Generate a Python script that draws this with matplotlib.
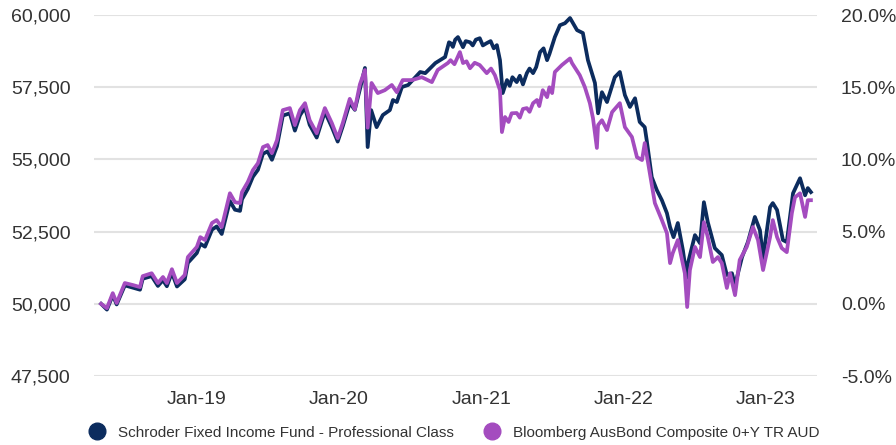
import matplotlib
matplotlib.use("Agg")
import matplotlib.pyplot as plt
import matplotlib.dates as mdates
from matplotlib.lines import Line2D
from matplotlib.ticker import FuncFormatter
import pandas as pd

plt.rcParams['font.family'] = ['Liberation Sans', 'DejaVu Sans']

fund_name = "Schroder Fixed Income Fund - Professional Class"
bench_name = "Bloomberg AusBond Composite 0+Y TR AUD"
navy = "#0c2c5e"
purple = "#a44cbf"

# growth of $50,000
fund_dates = [
    "2018-04-30", "2018-05-15", "2018-05-30", "2018-06-09", "2018-06-30", "2018-07-21",
    "2018-08-08", "2018-08-15", "2018-09-07", "2018-09-23", "2018-10-06", "2018-10-16",
    "2018-10-29", "2018-11-11", "2018-12-01", "2018-12-09", "2019-01-01", "2019-01-10",
    "2019-01-22", "2019-02-09", "2019-02-21", "2019-03-06", "2019-03-27", "2019-04-09",
    "2019-04-22", "2019-04-27", "2019-05-12", "2019-05-25", "2019-06-07", "2019-06-20",
    "2019-07-02", "2019-07-13", "2019-07-26", "2019-08-10", "2019-08-28", "2019-09-10",
    "2019-09-23", "2019-10-06", "2019-10-18", "2019-11-05", "2019-11-26", "2019-12-14",
    "2019-12-29", "2020-01-11", "2020-01-29", "2020-02-11", "2020-02-24", "2020-03-08",
    "2020-03-15", "2020-03-24", "2020-04-07", "2020-04-23", "2020-05-11", "2020-05-19",
    "2020-05-29", "2020-06-11", "2020-06-27", "2020-07-28", "2020-08-10", "2020-09-05",
    "2020-09-30", "2020-10-10", "2020-10-14", "2020-10-20", "2020-10-26", "2020-11-02",
    "2020-11-15", "2020-11-22", "2020-12-03", "2020-12-10", "2020-12-18", "2020-12-28",
    "2021-01-05", "2021-01-15", "2021-01-25", "2021-02-02", "2021-02-10", "2021-02-18",
    "2021-02-25", "2021-03-08", "2021-03-15", "2021-03-22", "2021-04-02", "2021-04-10",
    "2021-04-18", "2021-04-28", "2021-05-05", "2021-05-14", "2021-05-22", "2021-06-01",
    "2021-06-10", "2021-06-19", "2021-06-25", "2021-07-09", "2021-07-22", "2021-08-04",
    "2021-08-17", "2021-09-04", "2021-09-19", "2021-10-02", "2021-10-20", "2021-10-28",
    "2021-11-07", "2021-11-20", "2021-12-10", "2021-12-23", "2022-01-05", "2022-01-18",
    "2022-01-31", "2022-02-12", "2022-02-25", "2022-03-02", "2022-03-15", "2022-03-28",
    "2022-04-10", "2022-04-23", "2022-05-01", "2022-05-10", "2022-05-21", "2022-06-03",
    "2022-06-13", "2022-06-16", "2022-07-04", "2022-07-17", "2022-07-27", "2022-08-06",
    "2022-08-24", "2022-09-11", "2022-09-24", "2022-10-07", "2022-10-15", "2022-11-02",
    "2022-11-17", "2022-12-05", "2022-12-18", "2022-12-26", "2023-01-13", "2023-01-20",
    "2023-01-31", "2023-02-15", "2023-02-25", "2023-03-13", "2023-03-31", "2023-04-13",
    "2023-04-20", "2023-04-28",
]
fund_values = [
    50000, 49800, 50300, 49980, 50640, 50560,
    50490, 50870, 50960, 50620, 50820, 50610,
    51080, 50600, 50850, 51420, 51760, 52080,
    51980, 52570, 52680, 52420, 53560, 53260,
    53220, 53620, 53980, 54400, 54640, 55200,
    55280, 54990, 55460, 56520, 56600, 56000,
    56530, 56800, 56200, 55760, 56650, 56120,
    55620, 56150, 56960, 56720, 57430, 58170,
    55430, 56710, 56120, 56540, 56710, 57060,
    56990, 57510, 57580, 58030, 57990, 58340,
    58550, 59060, 59030, 58900, 59150, 59240,
    58890, 59100, 59060, 58950, 59150, 59200,
    58950, 59030, 59100, 58850, 58960, 58440,
    57300, 57750, 57550, 57850, 57680, 57900,
    57600, 57990, 58150, 57990, 58200, 58720,
    58850, 58440, 58650, 59240, 59650, 59720,
    59900, 59480, 59380, 58440, 57650, 56600,
    57330, 56990, 57850, 58030, 57230, 56820,
    57120, 56300, 56120, 55670, 54390, 53940,
    53590, 53140, 52660, 52310, 52800, 51860,
    50900, 51410, 52380, 52100, 53520, 52830,
    51930, 51690, 51000, 51060, 50650, 51620,
    52140, 53010, 52550, 51580, 53350, 53490,
    53250, 52210, 52140, 53830, 54350, 53760,
    54010, 53870,
]

bench_dates = [
    "2018-04-30", "2018-05-15", "2018-05-30", "2018-06-09", "2018-06-30", "2018-07-21",
    "2018-08-08", "2018-08-15", "2018-09-07", "2018-09-23", "2018-10-06", "2018-10-16",
    "2018-10-29", "2018-11-11", "2018-12-01", "2018-12-09", "2019-01-01", "2019-01-10",
    "2019-01-22", "2019-02-09", "2019-02-21", "2019-03-06", "2019-03-27", "2019-04-09",
    "2019-04-22", "2019-04-27", "2019-05-12", "2019-05-25", "2019-06-07", "2019-06-20",
    "2019-07-02", "2019-07-13", "2019-07-26", "2019-08-10", "2019-08-28", "2019-09-10",
    "2019-09-23", "2019-10-06", "2019-10-18", "2019-11-05", "2019-11-26", "2019-12-14",
    "2019-12-29", "2020-01-11", "2020-01-29", "2020-02-11", "2020-02-24", "2020-03-08",
    "2020-03-15", "2020-03-25", "2020-04-10", "2020-04-28", "2020-05-16", "2020-05-29",
    "2020-06-13", "2020-07-07", "2020-08-01", "2020-08-27", "2020-09-11", "2020-10-07",
    "2020-10-14", "2020-10-24", "2020-11-07", "2020-11-15", "2020-11-24", "2020-12-03",
    "2020-12-15", "2020-12-28", "2021-01-15", "2021-01-26", "2021-02-05", "2021-02-18",
    "2021-02-23", "2021-03-03", "2021-03-12", "2021-03-20", "2021-04-02", "2021-04-10",
    "2021-04-18", "2021-04-28", "2021-05-05", "2021-05-14", "2021-05-24", "2021-05-30",
    "2021-06-08", "2021-06-19", "2021-06-25", "2021-07-02", "2021-07-09", "2021-07-27",
    "2021-08-17", "2021-08-22", "2021-09-11", "2021-09-24", "2021-10-07", "2021-10-15",
    "2021-10-25", "2021-10-28", "2021-11-07", "2021-11-20", "2021-12-03", "2021-12-23",
    "2022-01-05", "2022-01-23", "2022-02-05", "2022-02-18", "2022-02-25", "2022-03-10",
    "2022-03-23", "2022-04-10", "2022-04-23", "2022-05-01", "2022-05-08", "2022-05-21",
    "2022-06-08", "2022-06-14", "2022-06-21", "2022-07-04", "2022-07-17", "2022-07-27",
    "2022-08-06", "2022-08-19", "2022-09-01", "2022-09-11", "2022-09-24", "2022-10-02",
    "2022-10-15", "2022-10-27", "2022-11-14", "2022-11-30", "2022-12-13", "2022-12-26",
    "2023-01-13", "2023-01-20", "2023-01-31", "2023-02-12", "2023-02-25", "2023-03-10",
    "2023-03-18", "2023-03-31", "2023-04-13", "2023-04-20", "2023-04-28",
]
bench_values = [
    50000, 49850, 50370, 50030, 50720, 50650,
    50580, 50960, 51060, 50720, 50930, 50720,
    51200, 50720, 51000, 51620, 51970, 52310,
    52210, 52800, 52900, 52660, 53830, 53520,
    53490, 53870, 54220, 54630, 54870, 55430,
    55500, 55220, 55670, 56710, 56780, 56190,
    56710, 56950, 56360, 55910, 56780, 56260,
    55740, 56260, 57100, 56740, 57600, 58100,
    56100, 57650, 57300, 57400, 57580, 57330,
    57750, 57750, 57850, 57680, 58100, 58340,
    58440, 58300, 58720, 58340, 58400, 58160,
    58350, 58270, 57990, 58150, 57920, 57400,
    55950, 56470, 56300, 56600, 56610, 56450,
    56750, 56780, 56650, 56950, 57060, 56850,
    57400, 57160, 57500, 57300, 58030, 58270,
    58500, 58340, 57920, 57510, 56950, 56430,
    55400, 56190, 56360, 56020, 56640, 56950,
    56120, 55780, 55080, 54980, 55570, 54530,
    53490, 52900, 52450, 51410, 51760, 52210,
    51060, 49890, 51170, 51970, 51620, 52830,
    52310, 51450, 51620, 51410, 50550, 51060,
    50300, 51520, 51970, 52660, 52210, 51170,
    52310, 52900, 52310, 51930, 51790, 53140,
    53690, 53830, 53010, 53590, 53590,
]

start_value = 50000
left_ticks = [47500, 50000, 52500, 55000, 57500, 60000]
x_ticks = ["2019-01-01", "2020-01-01", "2021-01-01", "2022-01-01", "2023-01-01"]

fig = plt.figure(figsize=(8.96, 4.45), dpi=100)
ax = fig.add_axes([0.105, 0.155, 0.807, 0.811])

ax.plot(pd.to_datetime(fund_dates), fund_values, color=navy, linewidth=2.7, zorder=3)
ax.plot(pd.to_datetime(bench_dates), bench_values, color=purple, linewidth=2.7, zorder=4)

ax.set_ylim(left_ticks[0], left_ticks[-1])
ax.set_yticks(left_ticks)
ax.yaxis.set_major_formatter(FuncFormatter(lambda v, p: f"{v:,.0f}"))
ax.set_xlim(pd.Timestamp("2018-04-12"), pd.Timestamp("2023-05-14"))
ax.set_xticks(pd.to_datetime(x_ticks))
ax.xaxis.set_major_formatter(mdates.DateFormatter("%b-%y"))
ax.grid(axis='y', color="#e2e2e2", linewidth=1.5, zorder=0)
ax.set_axisbelow(True)
for s in ax.spines.values():
    s.set_visible(False)
ax.tick_params(axis='y', length=0, pad=17, labelsize=14, labelcolor="#333333")
ax.tick_params(axis='x', length=0, pad=11, labelsize=14, labelcolor="#333333")

ax2 = ax.twinx()
lo, hi = ax.get_ylim()
ax2.set_ylim((lo / start_value - 1) * 100, (hi / start_value - 1) * 100)
ax2.set_yticks([-5, 0, 5, 10, 15, 20])
ax2.yaxis.set_major_formatter(FuncFormatter(lambda v, p: f"{v:.1f}%"))
for s in ax2.spines.values():
    s.set_visible(False)
ax2.tick_params(axis='y', length=0, pad=17, labelsize=14, labelcolor="#333333")

handles = [
    Line2D([], [], color=navy, marker='o', linestyle='none', markersize=12),
    Line2D([], [], color=purple, marker='o', linestyle='none', markersize=12),
]
fig.legend(handles, [fund_name, bench_name], loc='center', bbox_to_anchor=(0.507, 0.028),
           ncol=2, frameon=False, fontsize=11, handlelength=1.0, handletextpad=0.85,
           columnspacing=2.0, labelcolor="#333333")

fig.savefig("out.png", dpi=100)
